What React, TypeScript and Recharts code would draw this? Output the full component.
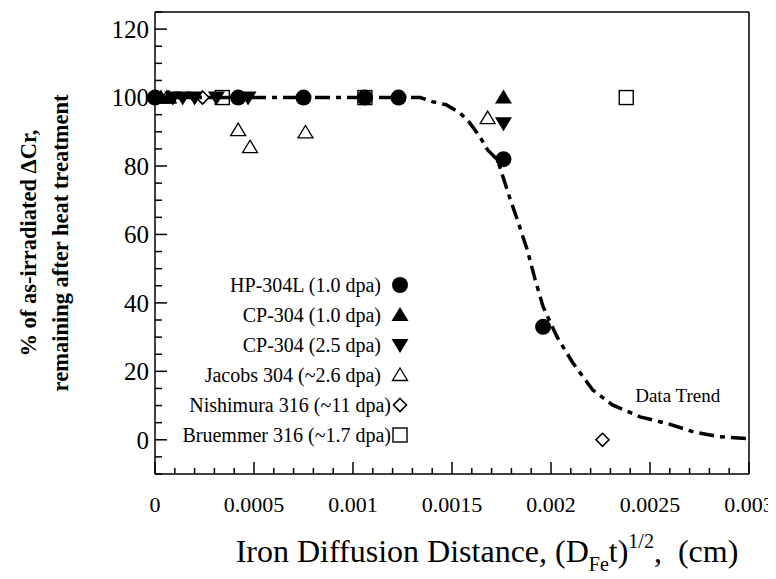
import React from 'react';
import { Legend, ReferenceDot, Scatter, ScatterChart, XAxis, YAxis } from 'recharts';

const SERIF = "'Liberation Serif', 'Times New Roman', serif";

// measured points, x = (D_Fe t)^1/2 in cm, y = % of dCr remaining
const HP304L_X = [0, 0.00042, 0.00075, 0.00106, 0.00123, 0.00176, 0.00196];
const HP304L_Y = [100, 100, 100, 100, 100, 82, 33];

const CP304_10_X = [0.00003, 0.00007, 0.00176];
const CP304_10_Y = [100, 100, 100];

const CP304_25_X = [0.00009, 0.00014, 0.0002, 0.00031, 0.00047, 0.00176];
const CP304_25_Y = [100, 100, 100, 100, 100, 92.5];

const JACOBS_X = [0.00006, 0.00042, 0.00048, 0.00076, 0.00168];
const JACOBS_Y = [100, 90.5, 85.5, 89.8, 94];

const NISHIMURA_X = [0.00024, 0.00226];
const NISHIMURA_Y = [100, 0];

const BRUEMMER_X = [0.00034, 0.00106, 0.00238];
const BRUEMMER_Y = [100, 100, 100];

// hand drawn trend curve
const TREND_X = [0, 0.0012, 0.00134, 0.0014, 0.00147, 0.00154, 0.00159, 0.00164, 0.00168, 0.00173, 0.00179, 0.00183, 0.00188, 0.00192, 0.00196, 0.00203, 0.00211, 0.00221, 0.00231, 0.00245, 0.00259, 0.00272, 0.00285, 0.003];
const TREND_Y = [100, 100, 100, 98.8, 97.9, 95.5, 92.6, 88.6, 84.7, 81.8, 71, 64.3, 55.5, 46.8, 38.9, 30.1, 22.5, 14.6, 10.2, 6.7, 4.7, 2.3, 0.9, 0.3];

const X_TICKS = [0, 0.0001, 0.0002, 0.0003, 0.0004, 0.0005, 0.0006, 0.0007, 0.0008, 0.0009, 0.001, 0.0011, 0.0012, 0.0013, 0.0014, 0.0015, 0.0016, 0.0017, 0.0018, 0.0019, 0.002, 0.0021, 0.0022, 0.0023, 0.0024, 0.0025, 0.0026, 0.0027, 0.0028, 0.0029, 0.003];
const X_LABELS = [0, 0.0005, 0.001, 0.0015, 0.002, 0.0025, 0.003];
const Y_TICKS = [-10, -5, 0, 5, 10, 15, 20, 25, 30, 35, 40, 45, 50, 55, 60, 65, 70, 75, 80, 85, 90, 95, 100, 105, 110, 115, 120, 125];
const Y_LABELS = [0, 20, 40, 60, 80, 100, 120];

const zip = (xs: number[], ys: number[]) => xs.map((x, i) => ({ x, y: ys[i] }));

const SERIES = [
  { name: 'HP-304L (1.0 dpa)', kind: 'circle', data: zip(HP304L_X, HP304L_Y), gap: 10 },
  { name: 'CP-304 (1.0 dpa)', kind: 'up', data: zip(CP304_10_X, CP304_10_Y), gap: 10 },
  { name: 'CP-304 (2.5 dpa)', kind: 'down', data: zip(CP304_25_X, CP304_25_Y), gap: 10 },
  { name: 'Jacobs 304 (~2.6 dpa)', kind: 'openUp', data: zip(JACOBS_X, JACOBS_Y), gap: 10 },
  { name: 'Nishimura 316 (~11 dpa)', kind: 'diamond', data: zip(NISHIMURA_X, NISHIMURA_Y), gap: 0 },
  { name: 'Bruemmer 316 (~1.7 dpa)', kind: 'square', data: zip(BRUEMMER_X, BRUEMMER_Y), gap: 0 },
];

const Marker = ({ kind, cx, cy }: { kind: string; cx: number; cy: number }) => {
  switch (kind) {
    case 'circle':
      return <circle cx={cx} cy={cy} r={8} fill="#000" />;
    case 'up':
      return <polygon points={`${cx},${cy - 8} ${cx + 8.5},${cy + 6} ${cx - 8.5},${cy + 6}`} fill="#000" />;
    case 'down':
      return <polygon points={`${cx - 8.5},${cy - 6} ${cx + 8.5},${cy - 6} ${cx},${cy + 8}`} fill="#000" />;
    case 'openUp':
      return <polygon points={`${cx},${cy - 7} ${cx + 7.5},${cy + 5.5} ${cx - 7.5},${cy + 5.5}`} fill="none" stroke="#000" strokeWidth={1.3} />;
    case 'diamond':
      return <polygon points={`${cx},${cy - 6.5} ${cx + 6.5},${cy} ${cx},${cy + 6.5} ${cx - 6.5},${cy}`} fill="none" stroke="#000" strokeWidth={1.6} />;
    default:
      return <rect x={cx - 7} y={cy - 7} width={14} height={14} fill="none" stroke="#000" strokeWidth={1.4} />;
  }
};

const isXMajor = (v: number) => X_LABELS.includes(v);
const isYMajor = (v: number) => v % 20 === 0;

const BottomTick = (props: any) => {
  const { x, y, payload } = props;
  const v = payload.value;
  const major = isXMajor(v);
  return (
    <g>
      <line x1={x} y1={y} x2={x} y2={y - (major ? 12 : 6)} stroke="#000" strokeWidth={1.5} />
      {major && (
        <text x={x} y={y + 38} textAnchor="middle" fontSize={22} fontFamily={SERIF} fill="#000">
          {String(v)}
        </text>
      )}
    </g>
  );
};

const TopTick = (props: any) => {
  const { x, y, payload } = props;
  return <line x1={x} y1={y} x2={x} y2={y + (isXMajor(payload.value) ? 12 : 6)} stroke="#000" strokeWidth={1.5} />;
};

const LeftTick = (props: any) => {
  const { x, y, payload } = props;
  const v = payload.value;
  const major = isYMajor(v);
  return (
    <g>
      <line x1={x} y1={y} x2={x + (major ? 12 : 7)} y2={y} stroke="#000" strokeWidth={1.5} />
      {Y_LABELS.includes(v) && (
        <text x={x - 6} y={y} dy="0.35em" textAnchor="end" fontSize={25} fontFamily={SERIF} fill="#000">
          {String(v)}
        </text>
      )}
    </g>
  );
};

const RightTick = (props: any) => {
  const { x, y, payload } = props;
  return <line x1={x} y1={y} x2={x - (isYMajor(payload.value) ? 12 : 7)} y2={y} stroke="#000" strokeWidth={1.5} />;
};

const YTitle = (props: any) => {
  const vb = props.viewBox || { x: 0, y: 4, width: 147, height: 462 };
  const cy = vb.y + vb.height / 2;
  const x1 = vb.x + 28;
  const x2 = vb.x + 60;
  return (
    <g fontFamily={SERIF} fontSize={22.5} fontWeight="bold" fill="#000">
      <text x={x1} y={cy} textAnchor="middle" transform={`rotate(-90, ${x1}, ${cy})`}>
        % of as-irradiated ΔCr,
      </text>
      <text x={x2} y={cy} textAnchor="middle" transform={`rotate(-90, ${x2}, ${cy})`}>
        remaining after heat treatment
      </text>
    </g>
  );
};

const XTitle = (props: any) => {
  const vb = props.viewBox || { x: 147, y: 466, width: 594, height: 105 };
  const cx = vb.x + vb.width / 2 + 35;
  const by = vb.y + 88;
  return (
    <text x={cx} y={by} textAnchor="middle" fontFamily={SERIF} fontSize={32} fill="#000" style={{ whiteSpace: 'pre' }}>
      <tspan>Iron Diffusion Distance, (D</tspan>
      <tspan dy={9} fontSize={20}>Fe</tspan>
      <tspan dy={-9}>t)</tspan>
      <tspan dy={-14} fontSize={20}>1/2</tspan>
      <tspan dy={14}>,  (cm)</tspan>
    </text>
  );
};

const LegendBox = () => (
  <div style={{ fontFamily: SERIF, fontSize: 20, color: '#000' }}>
    {SERIES.map((s) => (
      <div
        key={s.name}
        style={{ height: 30, display: 'flex', justifyContent: 'flex-end', alignItems: 'center', whiteSpace: 'nowrap' }}
      >
        <span>{s.name}</span>
        <svg width={18} height={20} style={{ marginLeft: s.gap, flex: 'none' }}>
          <Marker kind={s.kind} cx={9} cy={10} />
        </svg>
      </div>
    ))}
  </div>
);

const App = () => {
  return (
    <div style={{ position: 'relative', width: 768, height: 571, background: '#fff' }}>
      <ScatterChart width={768} height={571} margin={{ top: 0, right: 0, bottom: 0, left: 0 }}>
        <XAxis
          xAxisId={0}
          type="number"
          dataKey="x"
          orientation="bottom"
          domain={[0, 0.003]}
          ticks={X_TICKS}
          interval={0}
          height={105}
          tickSize={0}
          tickMargin={0}
          tickLine={false}
          tick={<BottomTick />}
          axisLine={{ stroke: '#000', strokeWidth: 1.5 }}
          label={<XTitle />}
        />
        <XAxis
          xAxisId="top"
          type="number"
          dataKey="x"
          orientation="top"
          domain={[0, 0.003]}
          ticks={X_TICKS}
          interval={0}
          height={4}
          tickSize={0}
          tickMargin={0}
          tickLine={false}
          tick={<TopTick />}
          axisLine={{ stroke: '#000', strokeWidth: 1.5 }}
        />
        <YAxis
          yAxisId={0}
          type="number"
          dataKey="y"
          orientation="left"
          domain={[-10, 125]}
          ticks={Y_TICKS}
          interval={0}
          width={147}
          tickSize={0}
          tickMargin={0}
          tickLine={false}
          tick={<LeftTick />}
          axisLine={{ stroke: '#000', strokeWidth: 1.5 }}
          label={<YTitle />}
        />
        <YAxis
          yAxisId="right"
          type="number"
          dataKey="y"
          orientation="right"
          domain={[-10, 125]}
          ticks={Y_TICKS}
          interval={0}
          width={27}
          tickSize={0}
          tickMargin={0}
          tickLine={false}
          tick={<RightTick />}
          axisLine={{ stroke: '#000', strokeWidth: 1.5 }}
        />
        <Scatter
          name="Data Trend"
          data={zip(TREND_X, TREND_Y)}
          line={{ stroke: '#000', strokeWidth: 3.5, strokeDasharray: '15 6 5 6' }}
          shape={() => <g />}
          legendType="none"
          isAnimationActive={false}
        />
        {SERIES.map((s) => (
          <Scatter
            key={s.name}
            name={s.name}
            data={s.data}
            shape={(p: any) => <Marker kind={s.kind} cx={p.cx} cy={p.cy} />}
            isAnimationActive={false}
          />
        ))}
        <ReferenceDot
          x={0.00264}
          y={13.1}
          r={0}
          fill="none"
          stroke="none"
          label={{ value: 'Data Trend', position: 'center', fontSize: 19, fontFamily: SERIF, fill: '#000' }}
        />
        <Legend
          layout="vertical"
          align="center"
          verticalAlign="middle"
          content={<LegendBox />}
          wrapperStyle={{ left: 131, top: 262, width: 270 }}
        />
      </ScatterChart>
    </div>
  );
};

export default App;
